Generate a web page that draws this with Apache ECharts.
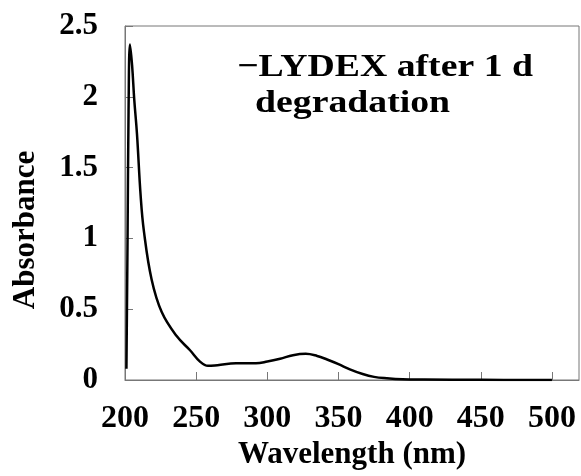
<!DOCTYPE html>
<html>
<head>
<meta charset="utf-8">
<script src="https://cdn.jsdelivr.net/npm/echarts@6/dist/echarts.min.js"></script>
<style>
  html, body { margin: 0; padding: 0; background: #fff; }
  #chart { width: 581px; height: 476px; }
</style>
</head>
<body>
<div id="chart"></div>
<script>
// spectrum
var wavelength = [201, 201.8, 202.5, 203.5, 205, 206.5, 208.4, 211, 213.3, 218.7, 225.8,
  236.3, 245.7, 252.7, 258.3, 265, 278, 292, 300, 309, 318, 327, 335, 342,
  350, 358, 367, 375, 384, 395, 410, 450, 500];
var absorbance = [0.08, 1.0, 1.9, 2.37, 2.22, 1.98, 1.74, 1.3, 1.05, 0.71, 0.48,
  0.31, 0.21, 0.13, 0.10, 0.105, 0.118, 0.118, 0.13, 0.15, 0.175, 0.185, 0.17, 0.145,
  0.112, 0.075, 0.042, 0.022, 0.012, 0.005, 0.003, 0.001, 0];
var legendLine1 = '\u2212LYDEX after 1 d';
var legendLine2 = 'degradation';

var font = 'Liberation Serif';
var points = wavelength.map(function (w, i) { return [w, absorbance[i]]; });

var chart = echarts.init(document.getElementById('chart'));
chart.setOption({
  animation: false,
  grid: {
    left: 125, top: 26, right: 2, bottom: 96,
    show: true, borderColor: '#777', borderWidth: 1
  },
  xAxis: {
    type: 'value', min: 200, max: 519, interval: 50,
    name: 'Wavelength (nm)', nameLocation: 'middle', nameGap: 57,
    nameTextStyle: { fontFamily: font, fontWeight: 'bold', fontSize: 31, color: '#000' },
    axisLine: { lineStyle: { color: '#777' } },
    axisTick: { inside: true, length: 8, lineStyle: { color: '#777' } },
    axisLabel: { margin: 23, fontFamily: font, fontWeight: 'bold', fontSize: 32, color: '#000', showMaxLabel: false },
    splitLine: { show: false }
  },
  yAxis: {
    type: 'value', min: 0, max: 2.5, interval: 0.5,
    name: 'Absorbance', nameLocation: 'middle', nameGap: 84,
    nameTextStyle: { fontFamily: font, fontWeight: 'bold', fontSize: 31, color: '#000', padding: [0, 54, 0, 0] },
    axisLine: { show: true, lineStyle: { color: '#777' } },
    axisTick: { show: true, inside: true, length: 8, lineStyle: { color: '#777' } },
    axisLabel: { margin: 27, fontFamily: font, fontWeight: 'bold', fontSize: 31, color: '#000' },
    splitLine: { show: false }
  },
  graphic: [
    { type: 'text', x: 237, y: 52, scaleX: 1.18,
      style: { text: legendLine1, font: 'bold 32px "Liberation Serif"', fill: '#000' } },
    { type: 'text', x: 255, y: 88, scaleX: 1.18,
      style: { text: legendLine2, font: 'bold 32px "Liberation Serif"', fill: '#000' } }
  ],
  series: [{
    type: 'line',
    name: 'LYDEX after 1 d degradation',
    data: points,
    smooth: 0.4,
    showSymbol: false,
    lineStyle: { color: '#000', width: 2.5 }
  }]
});
</script>
</body>
</html>
